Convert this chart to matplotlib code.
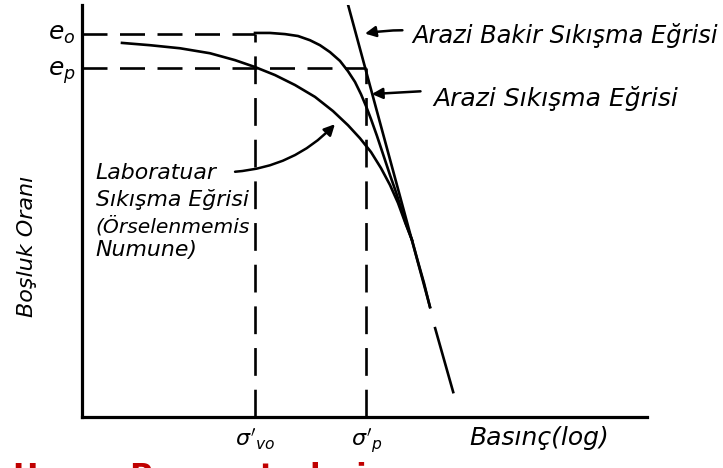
import matplotlib.pyplot as plt
import matplotlib as mpl

mpl.rcParams['lines.scale_dashes'] = False
mpl.rcParams['font.family'] = ['DejaVu Sans']
mpl.rcParams['mathtext.fontset'] = 'dejavusans'

# void ratios
e0 = 1.0
ep = 0.911
# positions on the log-pressure axis (arbitrary units, 0..10)
sig_vo = 3.06
sig_p = 5.03

# laboratory (undisturbed sample) compression curve
lab_x = [0.708, 1.204, 1.735, 2.265, 2.708, 3.062, 3.416, 3.770, 4.124, 4.442, 4.708,
         4.920, 5.115, 5.292, 5.451, 5.593, 5.717, 5.841, 5.947, 6.053, 6.159]
lab_e = [0.977, 0.971, 0.963, 0.950, 0.932, 0.914, 0.893, 0.867, 0.836, 0.799, 0.762,
         0.728, 0.692, 0.650, 0.606, 0.559, 0.509, 0.462, 0.405, 0.350, 0.287]

# field compression curve
field_x = [3.062, 3.327, 3.593, 3.823, 4.035, 4.212, 4.389, 4.566, 4.708, 4.832,
           4.938, 5.027, 5.115, 5.221, 5.327, 5.451, 5.558, 5.646, 5.735, 5.841]
field_e = [1.003, 1.003, 1.000, 0.995, 0.984, 0.971, 0.953, 0.930, 0.903, 0.875,
           0.843, 0.812, 0.778, 0.734, 0.687, 0.632, 0.587, 0.546, 0.504, 0.462]

# field virgin compression line (solid part + dashed extension)
virgin_x = [4.71, 6.16]
virgin_e = [1.076, 0.287]
virgin_ext_x = [6.25, 6.57]
virgin_ext_e = [0.232, 0.065]

fig = plt.figure(figsize=(7.23, 4.68), dpi=100)
ax = fig.add_axes([82/723, 51/468, 565/723, 412/468])
ax.set_xlim(0, 10)
ax.set_ylim(0, 1.076)
for s in ['top', 'right']:
    ax.spines[s].set_visible(False)
ax.spines['left'].set_linewidth(2.3)
ax.spines['bottom'].set_linewidth(2.3)
ax.set_xticks([])
ax.set_yticks([])

lw = 1.9
ax.plot(lab_x, lab_e, color='k', lw=lw, solid_joinstyle='round')
ax.plot(field_x, field_e, color='k', lw=lw, solid_joinstyle='round')
ax.plot(virgin_x, virgin_e, color='k', lw=lw)
ax.plot(virgin_ext_x, virgin_ext_e, color='k', lw=lw)

dash = (0, (18, 9))
ax.plot([0, sig_vo], [e0, e0], color='k', lw=lw, ls=dash)
ax.plot([0, sig_p], [ep, ep], color='k', lw=lw, ls=dash)
ax.plot([sig_vo, sig_vo], [0, e0], color='k', lw=lw, ls=(0, (20, 10)))
ax.plot([sig_p, sig_p], [0, ep], color='k', lw=lw, ls=(0, (20, 10)))

txt = dict(fontstyle='italic', color='k', clip_on=False)
ax.text(-0.12, e0, r'$e_o$', ha='right', va='center', fontsize=18, **txt)
ax.text(-0.12, 0.90, r'$e_p$', ha='right', va='center', fontsize=18, **txt)
ax.text(sig_vo, -0.025, r"$\sigma'_{vo}$", ha='center', va='top', fontsize=16, **txt)
ax.text(sig_p, -0.025, r"$\sigma'_{p}$", ha='center', va='top', fontsize=16, **txt)
ax.text(8.1, -0.055, 'Basınç(log)', ha='center', va='center', fontsize=18, **txt)
ax.text(-0.973, 0.446, 'Boşluk Oranı', ha='center', va='center', rotation=90, fontsize=16, **txt)

ax.text(5.84, 0.997, 'Arazi Bakir Sıkışma Eğrisi', ha='left', va='center', fontsize=17.4, **txt)
ax.text(6.21, 0.833, 'Arazi Sıkışma Eğrisi', ha='left', va='center', fontsize=18, **txt)

lab_lines = ['Laboratuar', 'Sıkışma Eğrisi', '(Örselenmemis', 'Numune)']
lab_line_e = [0.637, 0.567, 0.499, 0.436]
lab_sizes = [15.8, 15.8, 14.6, 15.8]
for t, yy, fs in zip(lab_lines, lab_line_e, lab_sizes):
    ax.text(0.24, yy, t, ha='left', va='center', fontsize=fs, **txt)

arr = dict(arrowstyle='-|>', color='k', lw=1.8, mutation_scale=16)
ax.annotate('', xy=(4.51, 0.770), xytext=(2.66, 0.640),
            arrowprops=dict(connectionstyle='arc3,rad=0.2', **arr))
ax.annotate('', xy=(4.96, 1.0), xytext=(5.72, 1.01),
            arrowprops=dict(connectionstyle='arc3,rad=0.05', **arr))
ax.annotate('', xy=(5.08, 0.843), xytext=(6.04, 0.851),
            arrowprops=dict(connectionstyle='arc3,rad=0.0', **arr))

# cut-off red slide title at the bottom edge
fig.text(13/723, 6/468, 'Hesap Parametreleri', color='#c00000', fontsize=22,
         fontweight='bold', va='top', ha='left')

fig.savefig('out.png', dpi=100)
